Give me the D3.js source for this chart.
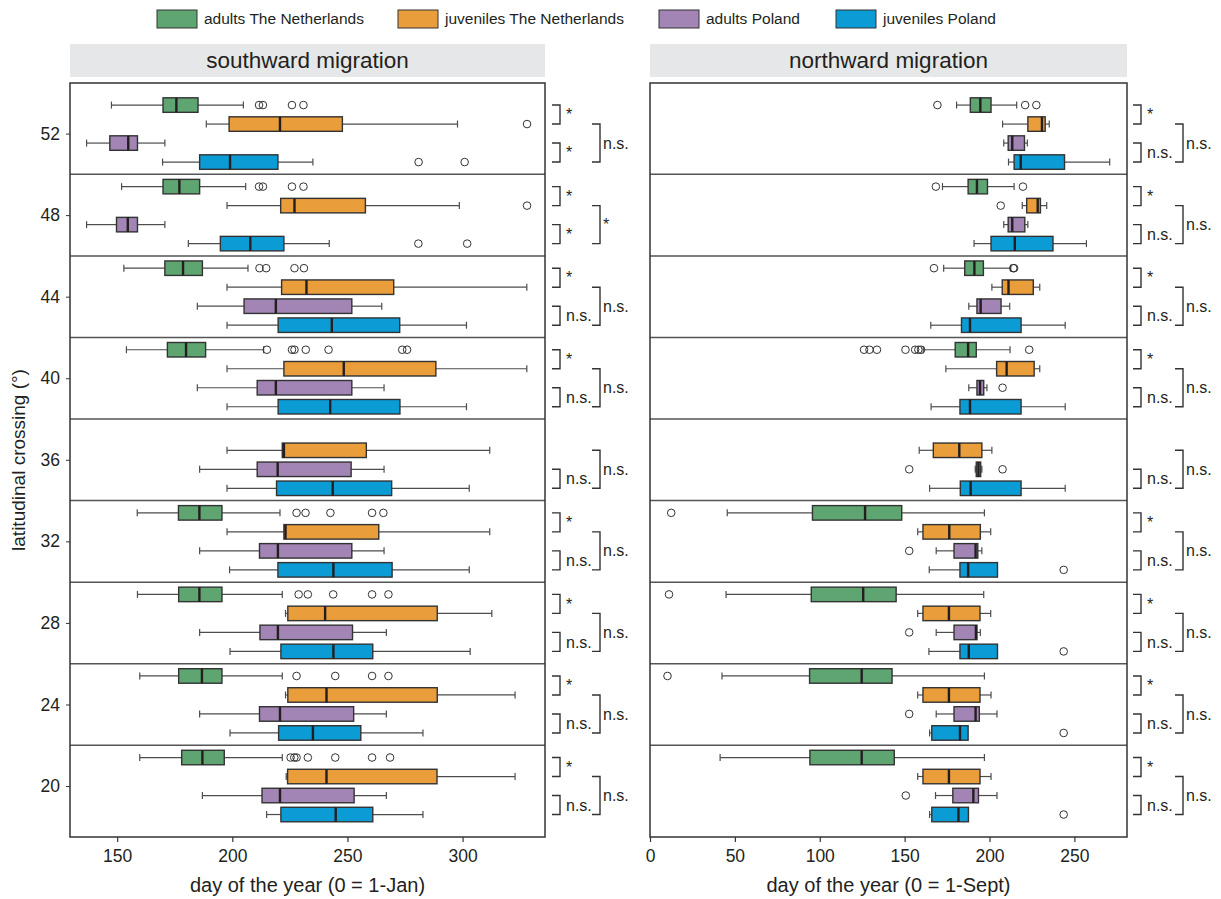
<!DOCTYPE html>
<html>
<head>
<meta charset="utf-8">
<script src="https://cdn.jsdelivr.net/npm/d3@7"></script>
<style>
  body { margin: 0; background: #fff; }
  text { font-family: "Liberation Sans", Arial, sans-serif; fill: #231f20; }
</style>
</head>
<body>
<svg id="chart" width="1221" height="899"></svg>
<script>
// ---------------- DATA ----------------
const latitudes = [52, 48, 44, 40, 36, 32, 28, 24, 20];
const groupNames = ["adults The Netherlands", "juveniles The Netherlands", "adults Poland", "juveniles Poland"];
const groupColors = ["#5fa572", "#e99d3b", "#a285b5", "#0b9cd6"];
const panelTitles = ["southward migration", "northward migration"];
const xTitles = ["day of the year (0 = 1-Jan)", "day of the year (0 = 1-Sept)"];
const southTicks = [150, 200, 250, 300];
const northTicks = [0, 50, 100, 150, 200, 250];

// each entry: [lowWhisker, Q1, median, Q3, highWhisker, [outliers]] per latitude (52 .. 20)
const southAdultsNL = [
  [147.5,169.9,175.7,185.1,204.8,[211.6,213.3,225.9,230.9]],
  [151.9,169.9,177.0,185.8,205.8,[211.6,213.3,225.9,230.9]],
  [152.9,170.7,178.6,187.0,206.8,[211.8,214.7,227.0,231.1]],
  [154.0,171.8,179.9,188.4,213.6,[215.0,225.9,227.0,231.9,241.8,273.8,275.9]],
  null,
  [158.7,176.6,185.7,195.5,220.7,[227.9,231.8,242.6,260.7,265.6]],
  [158.8,176.7,185.7,195.5,221.7,[228.8,232.8,243.8,260.7,267.8]],
  [159.8,176.7,186.8,195.5,221.7,[227.9,244.7,260.7,267.8]],
  [159.8,178.0,187.0,196.5,221.7,[225.3,226.9,227.9,232.8,244.7,260.7,268.5]]
];
const southJuvNL = [
  [188.7,198.6,220.7,247.8,297.8,[328.0]],
  [197.7,221.0,227.0,257.8,298.6,[328.0]],
  [197.7,221.4,232.2,270.1,327.9,[]],
  [197.7,222.4,248.4,288.4,327.9,[]],
  [197.7,221.7,222.4,258.2,311.8,[]],
  [197.7,222.4,223.1,263.6,311.8,[]],
  [223.1,224.1,240.3,289.0,312.7,[]],
  [223.1,224.1,240.9,289.0,322.8,[]],
  [223.4,224.0,240.9,288.9,322.8,[]]
];
const southAdultsPL = [
  [136.7,146.8,154.8,158.8,170.7,[]],
  [136.7,149.7,154.6,158.8,170.7,[]],
  [184.8,205.1,218.9,251.9,264.9,[]],
  [184.8,210.8,218.9,251.9,265.9,[]],
  [185.8,210.8,219.7,251.6,265.9,[]],
  [185.8,211.8,219.8,251.9,265.9,[]],
  [185.8,212.0,219.8,252.2,266.9,[]],
  [185.8,211.8,220.7,252.7,266.9,[]],
  [187.0,212.9,220.7,252.9,266.9,[]]
];
const southJuvPL = [
  [169.7,185.8,199.0,219.8,235.0,[280.9,300.9]],
  [180.9,194.8,207.8,222.4,242.1,[280.8,302.0]],
  [197.7,219.9,243.2,272.7,301.7,[]],
  [197.7,219.9,242.5,272.8,301.7,[]],
  [197.7,219.2,243.6,269.2,302.9,[]],
  [198.8,219.8,243.9,269.4,302.9,[]],
  [199.0,221.1,243.9,261.0,303.3,[]],
  [199.0,220.1,235.0,255.8,282.8,[]],
  [214.9,221.1,244.9,261.0,282.8,[]]
];
const northAdultsNL = [
  [180.6,188.7,194.6,200.9,216.0,[169.3,221.0,227.6]],
  [172.3,187.4,192.6,198.8,214.5,[168.4,219.7]],
  [173.0,185.4,191.1,196.4,212.5,[167.3,214.0,214.5]],
  [161.0,179.8,187.4,192.2,212.1,[126.1,129.3,133.7,150.5,156.2,158.1,159.7,223.4]],
  null,
  [45.5,95.7,126.7,148.3,197.0,[12.5]],
  [44.8,95.0,125.6,145.0,196.6,[11.2]],
  [42.4,94.0,124.7,142.6,197.0,[10.3]],
  [41.3,94.2,124.7,143.9,197.0,[]]
];
const northJuvNL = [
  [207.7,222.6,230.9,232.8,235.2,[]],
  [219.3,221.9,228.4,230.0,233.7,[206.6]],
  [201.4,207.5,211.2,225.8,229.6,[]],
  [174.3,204.2,210.1,226.3,229.6,[]],
  [158.6,166.9,182.2,195.5,201.4,[]],
  [157.7,160.8,176.3,194.6,200.7,[]],
  [157.7,160.8,176.1,194.4,200.7,[]],
  [157.7,160.8,176.1,194.4,200.9,[]],
  [157.7,160.8,176.1,194.4,200.9,[]]
];
const northAdultsPL = [
  [208.4,211.0,213.4,220.6,222.3,[]],
  [208.4,211.0,213.4,220.8,222.6,[]],
  [187.8,192.6,194.8,206.8,211.9,[]],
  [187.8,192.6,194.4,196.6,198.5,[207.7]],
  [191.6,192.2,193.5,194.8,195.5,[152.7,207.7]],
  [168.6,179.1,191.8,193.1,195.5,[152.7]],
  [168.6,179.1,192.0,192.6,194.6,[152.7]],
  [168.6,179.1,191.8,194.0,204.4,[152.7]],
  [168.2,178.4,190.5,193.5,204.4,[150.7]]
];
const northJuvPL = [
  [211.2,214.5,218.4,244.2,270.8,[]],
  [190.9,200.9,214.9,237.4,257.1,[]],
  [165.4,183.5,188.5,218.6,244.6,[]],
  [165.6,182.6,188.5,218.6,244.6,[]],
  [164.7,182.8,188.9,218.6,244.6,[]],
  [164.5,182.6,187.4,204.7,204.7,[243.7]],
  [164.3,182.6,187.8,204.7,204.7,[243.7]],
  [164.7,166.0,182.6,187.4,187.4,[243.7]],
  [164.7,166.0,181.7,187.6,187.6,[243.7]]
];
// significance labels: [adults NL vs juveniles NL, adults PL vs juveniles PL, juveniles NL vs juveniles PL]
const southSigNL = ["*","*","*","*",null,"*","*","*","*"];
const southSigPL = ["*","*","n.s.","n.s.","n.s.","n.s.","n.s.","n.s.","n.s."];
const southSigJuv = ["n.s.","*","n.s.","n.s.","n.s.","n.s.","n.s.","n.s.","n.s."];
const northSigNL = ["*","*","*","*",null,"*","*","*","*"];
const northSigPL = ["n.s.","n.s.","n.s.","n.s.","n.s.","n.s.","n.s.","n.s.","n.s."];
const northSigJuv = ["n.s.","n.s.","n.s.","n.s.","n.s.","n.s.","n.s.","n.s.","n.s."];

// ---------------- LAYOUT ----------------
const svg = d3.select("#chart");
const plotTop = 83, plotBottom = 837;
const y = d3.scaleLinear().domain([17.5, 54.48]).range([plotBottom, plotTop]);
const inner = d3.scalePoint().domain([0,1,2,3]).range([-28.5, 28.5]);
const boxH = 14.5;

const panels = [
  { x0: 70, x1: 545, domain: [129.5, 335.8], ticks: southTicks,
    data: [southAdultsNL, southJuvNL, southAdultsPL, southJuvPL],
    sig: [southSigNL, southSigPL, southSigJuv], br: [7, 15, 21, 47, 55, 58] },
  { x0: 650, x1: 1127, domain: [0, 281], ticks: northTicks,
    data: [northAdultsNL, northJuvNL, northAdultsPL, northJuvPL],
    sig: [northSigNL, northSigPL, northSigJuv], br: [6, 14, 20, 48, 56, 59] }
];

// Legend
const legendX = [157, 398, 659, 836];
groupNames.forEach((name, i) => {
  const g = svg.append("g");
  g.append("rect").attr("x", legendX[i]).attr("y", 10).attr("width", 40).attr("height", 18)
    .attr("fill", groupColors[i]).attr("stroke", "#333").attr("stroke-width", 1);
  g.append("text").attr("x", legendX[i] + 47).attr("y", 19).attr("dy", "0.35em")
    .attr("font-size", 15.5).text(name);
});

panels.forEach((p, pi) => {
  const x = d3.scaleLinear().domain(p.domain).range([p.x0, p.x1]);
  const g = svg.append("g");

  // strip
  g.append("rect").attr("x", p.x0).attr("y", 44).attr("width", p.x1 - p.x0).attr("height", 33)
    .attr("fill", "#e6e7e8");
  g.append("text").attr("x", (p.x0 + p.x1) / 2).attr("y", 60).attr("dy", "0.35em")
    .attr("text-anchor", "middle").attr("font-size", 22.5).text(panelTitles[pi]);

  // separators
  latitudes.slice(0, -1).forEach((lat, i) => {
    const yy = y((lat + latitudes[i + 1]) / 2);
    g.append("line").attr("x1", p.x0).attr("x2", p.x1).attr("y1", yy).attr("y2", yy)
      .attr("stroke", "#555").attr("stroke-width", 1.5);
  });

  // boxes
  p.data.forEach((series, gi) => {
    series.forEach((d, li) => {
      if (!d) return;
      const cy = y(latitudes[li]) + inner(gi);
      const [lo, q1, med, q3, hi, outs] = d;
      const bg = g.append("g");
      if (lo < q1) {
        bg.append("line").attr("x1", x(lo)).attr("x2", x(q1)).attr("y1", cy).attr("y2", cy)
          .attr("stroke", "#4d4d4d").attr("stroke-width", 1.2);
        bg.append("line").attr("x1", x(lo)).attr("x2", x(lo)).attr("y1", cy - 3.5).attr("y2", cy + 3.5)
          .attr("stroke", "#4d4d4d").attr("stroke-width", 1.2);
      }
      if (hi > q3) {
        bg.append("line").attr("x1", x(q3)).attr("x2", x(hi)).attr("y1", cy).attr("y2", cy)
          .attr("stroke", "#4d4d4d").attr("stroke-width", 1.2);
        bg.append("line").attr("x1", x(hi)).attr("x2", x(hi)).attr("y1", cy - 3.5).attr("y2", cy + 3.5)
          .attr("stroke", "#4d4d4d").attr("stroke-width", 1.2);
      }
      bg.append("rect").attr("x", x(q1)).attr("y", cy - boxH / 2)
        .attr("width", Math.max(1, x(q3) - x(q1))).attr("height", boxH)
        .attr("fill", groupColors[gi]).attr("stroke", "#333").attr("stroke-width", 1.4);
      bg.append("line").attr("x1", x(med)).attr("x2", x(med))
        .attr("y1", cy - boxH / 2).attr("y2", cy + boxH / 2)
        .attr("stroke", "#231f20").attr("stroke-width", 2.4);
      outs.forEach(o => {
        bg.append("circle").attr("cx", x(o)).attr("cy", cy).attr("r", 3.8)
          .attr("fill", "none").attr("stroke", "#333").attr("stroke-width", 1);
      });
    });
  });

  // panel border
  g.append("rect").attr("x", p.x0).attr("y", plotTop).attr("width", p.x1 - p.x0).attr("height", plotBottom - plotTop)
    .attr("fill", "none").attr("stroke", "#333").attr("stroke-width", 1.5);

  // x axis
  const xa = g.append("g").attr("transform", `translate(0,${plotBottom})`)
    .call(d3.axisBottom(x).tickValues(p.ticks).tickSize(5).tickPadding(8).tickFormat(d3.format("d")));
  xa.select(".domain").remove();
  xa.selectAll("line").attr("stroke", "#333").attr("stroke-width", 1.2);
  xa.selectAll("text").attr("font-size", 17.5).attr("fill", "#231f20")
    .style("font-family", "'Liberation Sans', Arial, sans-serif");
  g.append("text").attr("x", (p.x0 + p.x1) / 2).attr("y", 885).attr("dy", "0.35em")
    .attr("text-anchor", "middle").attr("font-size", 20).text(xTitles[pi]);

  // brackets
  const [a0, a1, at, b0, b1, bt] = p.br;
  const pairs = [[0, 1, a0, a1, at], [2, 3, a0, a1, at], [1, 3, b0, b1, bt]];
  pairs.forEach((pr, si) => {
    p.sig[si].forEach((lab, li) => {
      if (!lab) return;
      const yA = y(latitudes[li]) + inner(pr[0]);
      const yB = y(latitudes[li]) + inner(pr[1]);
      const xs = p.x1 + pr[2], xe = p.x1 + pr[3];
      g.append("path")
        .attr("d", `M${xs},${yA}H${xe}V${yB}H${xs}`)
        .attr("fill", "none").attr("stroke", "#333").attr("stroke-width", 1.4);
      g.append("text").attr("x", p.x1 + pr[4]).attr("y", (yA + yB) / 2).attr("dy", "0.35em")
        .attr("font-size", 16).text(lab);
    });
  });

  // y axis (left panel only)
  if (pi === 0) {
    const ya = g.append("g").attr("transform", `translate(${p.x0},0)`)
      .call(d3.axisLeft(y).tickValues(latitudes).tickSize(4).tickPadding(6).tickFormat(d3.format("d")));
    ya.select(".domain").remove();
    ya.selectAll("line").attr("stroke", "#333");
    ya.selectAll("text").attr("font-size", 17.5).attr("fill", "#231f20")
      .style("font-family", "'Liberation Sans', Arial, sans-serif");
    g.append("text").attr("transform", `translate(18,${(plotTop + plotBottom) / 2}) rotate(-90)`)
      .attr("dy", "0.35em").attr("text-anchor", "middle").attr("font-size", 19)
      .text("latitudinal crossing (°)");
  }
});
</script>
</body>
</html>
